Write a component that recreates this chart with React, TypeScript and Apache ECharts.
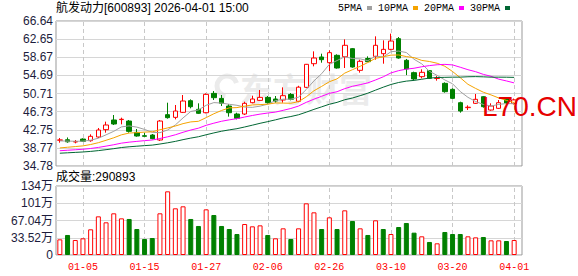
import React, { useEffect, useRef } from 'react';
import * as echarts from 'echarts';

const stockName = '航发动力';
const stockCode = '600893';
const stamp = '2026-04-01 15:00';

const dates = [
  '12-29', '12-30', '12-31', '01-05', '01-06', '01-07', '01-08', '01-09', '01-12', '01-13',
  '01-14', '01-15', '01-16', '01-19', '01-20', '01-21', '01-22', '01-23', '01-26', '01-27',
  '01-28', '01-29', '01-30', '02-02', '02-03', '02-04', '02-05', '02-06', '02-09', '02-10',
  '02-11', '02-12', '02-13', '02-24', '02-25', '02-26', '02-27', '03-02', '03-03', '03-04',
  '03-05', '03-06', '03-09', '03-10', '03-11', '03-12', '03-13', '03-16', '03-17', '03-18',
  '03-19', '03-20', '03-23', '03-24', '03-25', '03-26', '03-27', '03-30', '03-31', '04-01',
];

const openPrice = [
  40.45, 40.55, 40.05, 40.7, 40.34, 41.15, 42.76, 44.89, 44.98, 44.66,
  42.17, 41.44, 41.59, 40.49, 46.06, 45.47, 46.57, 49.13, 47.23, 46.49,
  50.74, 49.64, 47.96, 46.2, 46.2, 48.69, 49.2, 49.86, 49.5, 49.28,
  50.5, 49.0, 52.06, 57.26, 58.73, 57.48, 59.1, 58.8, 60.56, 55.8,
  58.4, 58.87, 59.46, 60.41, 62.76, 58.0, 55.29, 54.41, 55.73, 54.0,
  52.94, 51.62, 48.69, 47.6, 48.55, 50.01, 47.08, 47.45, 49.6, 48.5,
];
const closePrice = [
  40.5, 40.1, 40.15, 40.2, 41.3, 42.69, 43.79, 44.01, 45.05, 42.39,
  41.37, 41.3, 40.78, 44.66, 45.4, 46.86, 49.06, 47.81, 46.35, 50.52,
  49.79, 48.55, 46.49, 45.25, 48.55, 49.5, 49.86, 48.69, 49.06, 50.23,
  49.45, 52.1, 57.12, 58.51, 58.14, 59.68, 56.31, 61.3, 56.53, 57.78,
  57.7, 61.3, 60.41, 62.24, 58.51, 56.1, 53.9, 55.36, 54.04, 54.06,
  51.11, 49.64, 46.86, 47.7, 49.43, 47.81, 47.96, 48.69, 48.6, 49.3,
];
const lowPrice = [
  39.9, 39.9, 39.76, 40.05, 40.12, 40.93, 42.1, 43.79, 43.93, 42.1,
  41.22, 41.22, 40.64, 40.27, 45.18, 45.03, 46.42, 47.45, 46.2, 46.35,
  49.28, 47.96, 45.62, 45.03, 45.98, 48.55, 49.06, 48.47, 48.69, 48.69,
  49.2, 48.8, 51.9, 56.68, 57.48, 55.65, 56.17, 56.31, 56.38, 55.29,
  57.63, 58.14, 57.26, 60.19, 58.36, 54.75, 53.68, 54.04, 53.9, 53.53,
  50.89, 49.5, 46.5, 47.08, 48.4, 47.6, 46.93, 47.3, 48.4, 48.3,
];
const highPrice = [
  40.93, 41.05, 40.49, 40.86, 41.74, 43.13, 44.52, 45.98, 45.4, 44.89,
  42.91, 42.1, 41.81, 44.89, 48.69, 48.18, 50.38, 49.42, 48.55, 50.74,
  51.25, 50.38, 48.4, 46.49, 48.91, 50.23, 51.48, 50.16, 50.16, 52.06,
  50.8, 52.4, 57.2, 59.97, 59.46, 60.19, 59.32, 62.61, 60.71, 58.14,
  58.87, 63.27, 62.39, 63.86, 63.12, 58.3, 55.51, 56.02, 55.87, 54.55,
  53.16, 51.84, 48.91, 48.11, 50.6, 50.16, 48.55, 49.28, 49.7, 49.6,
];
const prevClose = 40.2;

const volumes = [
  304000, 389000, 291000, 324000, 499000, 751000, 635000, 810000, 712000, 700000,
  505000, 311000, 330000, 810000, 1237000, 907000, 946000, 700000, 564000, 887000,
  777000, 564000, 505000, 408000, 602000, 557000, 576000, 389000, 324000, 518000,
  311000, 518000, 1004000, 829000, 505000, 732000, 505000, 868000, 661000, 518000,
  389000, 674000, 505000, 408000, 544000, 622000, 434000, 363000, 253000, 227000,
  447000, 408000, 408000, 363000, 343000, 350000, 285000, 285000, 272000, 290893,
];

const ma5 = [
  40.3, 40.25, 40.22, 40.23, 40.45, 40.89, 41.63, 42.4, 43.37, 43.59,
  43.32, 42.82, 42.18, 42.1, 42.7, 43.8, 45.35, 46.76, 47.1, 48.12,
  48.71, 48.6, 48.34, 48.12, 47.73, 47.67, 47.93, 48.37, 49.13, 49.47,
  49.46, 49.91, 51.59, 53.48, 55.06, 57.11, 57.95, 58.79, 58.39, 58.32,
  57.92, 58.92, 58.74, 59.89, 60.03, 59.71, 58.23, 57.22, 55.58, 54.69,
  53.69, 52.84, 51.14, 49.87, 48.95, 48.29, 47.95, 48.32, 48.5, 48.47,
];
const ma10 = [
  38.75, 38.9, 39.05, 39.2, 39.5, 39.9, 40.43, 40.98, 41.63, 42.02,
  42.11, 42.23, 42.29, 42.74, 43.15, 43.56, 44.09, 44.47, 44.6, 45.41,
  46.26, 46.98, 47.55, 47.61, 47.93, 48.19, 48.27, 48.36, 48.63, 48.6,
  48.57, 48.92, 49.98, 51.31, 52.27, 53.29, 53.93, 55.19, 55.94, 56.69,
  57.52, 58.44, 58.77, 59.14, 59.18, 58.82, 58.58, 57.98, 57.74, 57.36,
  56.7, 55.54, 54.18, 52.73, 51.82, 50.99, 50.4, 49.73, 49.19, 48.71,
];
const ma20 = [
  38.14, 38.24, 38.35, 38.46, 38.63, 38.86, 39.15, 39.45, 39.8, 40.02,
  40.19, 40.35, 40.49, 40.82, 41.19, 41.64, 42.19, 42.68, 43.09, 43.72,
  44.19, 44.61, 44.92, 45.18, 45.54, 45.88, 46.18, 46.42, 46.62, 47.01,
  47.42, 47.95, 48.77, 49.46, 50.1, 50.74, 51.1, 51.78, 52.29, 52.65,
  53.05, 53.68, 54.38, 55.23, 55.73, 56.06, 56.26, 56.59, 56.84, 57.03,
  57.11, 56.99, 56.48, 55.94, 55.5, 54.91, 54.49, 53.86, 53.47, 53.04,
];
const ma30 = [
  37.59, 37.68, 37.77, 37.86, 37.99, 38.16, 38.37, 38.59, 38.84, 39.0,
  39.13, 39.26, 39.37, 39.61, 39.88, 40.19, 40.57, 40.91, 41.21, 41.64,
  42.05, 42.42, 42.72, 42.98, 43.35, 43.75, 44.16, 44.53, 44.92, 45.34,
  45.65, 46.04, 46.61, 47.22, 47.78, 48.35, 48.76, 49.34, 49.72, 50.23,
  50.78, 51.45, 52.1, 52.69, 53.13, 53.43, 53.59, 53.84, 54.1, 54.22,
  54.26, 54.3, 54.31, 54.39, 54.42, 54.37, 54.3, 54.3, 54.29, 54.25,
];

const priceTicks = ['34.78', '38.77', '42.75', '46.73', '50.71', '54.69', '58.67', '62.65', '66.64'];
const volumeTicks = ['0', '33.52万', '67.04万', '101万', '134万'];
const volumeAxisMax = 1340800;
const labelDates = ['01-05', '01-15', '01-27', '02-06', '02-26', '03-10', '03-20', '04-01'];

const UP = '#ff0000';
const DOWN = '#008000';
const LABEL = '#1c1c3c';

export default function App() {
  const ref = useRef<HTMLDivElement>(null);

  useEffect(() => {
    if (!ref.current) return;
    const chart = echarts.init(ref.current, undefined, { renderer: 'svg' });

    const pMin = parseFloat(priceTicks[0]);
    const pMax = parseFloat(priceTicks[priceTicks.length - 1]);
    const pInt = Math.round(((pMax - pMin) / (priceTicks.length - 1)) * 1e4) / 1e4;
    const vInt = volumeAxisMax / (volumeTicks.length - 1);

    const vLines = {
      silent: true,
      z: 1,
      symbol: ['none', 'none'],
      label: { show: false },
      emphasis: { disabled: true },
      lineStyle: { color: '#c8c8c8', type: [4, 3], width: 1 },
      data: labelDates.map((d) => ({ xAxis: d })),
    };

    const maSeries = [
      { name: '5PMA', data: ma5, color: '#a0a0a0' },
      { name: '10PMA', data: ma10, color: '#f5a300' },
      { name: '20PMA', data: ma20, color: '#ff00ff' },
      { name: '30PMA', data: ma30, color: '#006633' },
    ].map((m) => ({
      type: 'line',
      name: m.name,
      xAxisIndex: 1,
      yAxisIndex: 1,
      data: m.data,
      showSymbol: false,
      symbol: 'none',
      lineStyle: { color: m.color, width: 1 },
      itemStyle: { color: m.color },
      z: 3,
      silent: true,
    }));

    const option: any = {
      animation: false,
      backgroundColor: '#fff',
      title: [
        {
          text: `${stockName}[${stockCode}] ${stamp}`,
          left: 56,
          top: 2,
          padding: 0,
          textStyle: { fontSize: 12, fontWeight: 'normal', color: '#000', fontFamily: '"Liberation Sans", "Noto Sans CJK SC"' },
        },
        {
          text: `成交量:${volumes[volumes.length - 1]}`,
          left: 56,
          top: 171,
          padding: 0,
          textStyle: { fontSize: 12, fontWeight: 'normal', color: '#000', fontFamily: '"Liberation Sans", "Noto Sans CJK SC"' },
        },
      ],
      legend: {
        left: 338,
        top: 3,
        padding: 0,
        itemGap: 6,
        itemWidth: 5,
        itemHeight: 4,
        align: 'right',
        icon: 'rect',
        selectedMode: false,
        textStyle: { fontFamily: '"Liberation Mono", monospace', fontSize: 10, color: '#000' },
        data: ['5PMA', '10PMA', '20PMA', '30PMA'],
      },
      graphic: [
        {
          type: 'arc',
          z: 0,
          silent: true,
          shape: { cx: 227, cy: 86, r: 10, startAngle: Math.PI * 0.55, endAngle: Math.PI * 1.9, clockwise: true },
          style: { stroke: '#ebebeb', lineWidth: 5, fill: 'none' },
        },
        {
          type: 'text',
          left: 240,
          top: 71,
          z: 0,
          silent: true,
          style: { text: '东方财富', font: 'bold 33px "Noto Sans CJK SC"', fill: '#ebebeb' },
        },
        {
          type: 'text',
          left: 482,
          top: 92,
          z: 100,
          silent: true,
          style: { text: 'L70.CN', font: '28px "Liberation Sans"', fill: '#e60000' },
        },
      ],
      grid: [
        { left: 56, top: 21, width: 466, height: 145, show: true, borderColor: '#999', borderWidth: 1, backgroundColor: 'transparent' },
        { left: 56, top: 21, width: 462, height: 145 },
        { left: 56, top: 186, width: 466, height: 69, show: true, borderColor: '#999', borderWidth: 1, backgroundColor: 'transparent' },
        { left: 56, top: 186, width: 462, height: 69 },
      ],
      xAxis: [
        { gridIndex: 0, type: 'value', min: 0, max: 1, show: false },
        {
          gridIndex: 1,
          type: 'category',
          data: dates,
          boundaryGap: true,
          axisLine: { show: false },
          axisTick: { show: false },
          axisLabel: { show: false },
          splitLine: { show: false },
        },
        { gridIndex: 2, type: 'value', min: 0, max: 1, show: false },
        {
          gridIndex: 3,
          type: 'category',
          data: dates,
          boundaryGap: true,
          axisLine: { show: false },
          axisTick: { show: false },
          axisLabel: {
            show: true,
            interval: (_i: number, v: string) => labelDates.includes(v),
            color: '#ff0000',
            fontFamily: '"Liberation Mono", monospace',
            fontSize: 10,
            margin: 7,
          },
          splitLine: { show: false },
        },
      ],
      yAxis: [
        {
          gridIndex: 0,
          type: 'value',
          min: pMin,
          max: pMax,
          interval: pInt,
          axisLine: { show: false },
          axisTick: { show: false },
          axisLabel: {
            formatter: (v: number) => priceTicks[Math.round((v - pMin) / pInt)] ?? '',
            color: LABEL,
            fontSize: 12,
            fontFamily: '"Liberation Sans", Arial',
            margin: 3,
          },
          splitLine: { show: true, lineStyle: { color: '#d6d6d6', width: 1 } },
        },
        { gridIndex: 1, type: 'value', min: pMin, max: pMax, show: false },
        {
          gridIndex: 2,
          type: 'value',
          min: 0,
          max: volumeAxisMax,
          interval: vInt,
          axisLine: { show: false },
          axisTick: { show: false },
          axisLabel: {
            formatter: (v: number) => volumeTicks[Math.round(v / vInt)] ?? '',
            color: LABEL,
            fontSize: 12,
            fontFamily: '"Liberation Sans", "Noto Sans CJK SC"',
            margin: 3,
          },
          splitLine: { show: true, lineStyle: { color: '#d6d6d6', width: 1 } },
        },
        { gridIndex: 3, type: 'value', min: 0, max: volumeAxisMax, show: false },
      ],
      series: [
        {
          type: 'candlestick',
          name: 'K',
          xAxisIndex: 1,
          yAxisIndex: 1,
          barWidth: 5,
          silent: true,
          data: dates.map((_, i) => [openPrice[i], closePrice[i], lowPrice[i], highPrice[i]]),
          itemStyle: { color: '#ffffff', color0: DOWN, borderColor: UP, borderColor0: DOWN, borderWidth: 1 },
          markLine: vLines,
        },
        ...maSeries,
        {
          type: 'bar',
          name: 'VOL',
          xAxisIndex: 3,
          yAxisIndex: 3,
          barWidth: 5,
          silent: true,
          data: volumes.map((v, i) => {
            const pc = i === 0 ? prevClose : closePrice[i - 1];
            const up = closePrice[i] >= pc;
            return {
              value: v,
              itemStyle: up
                ? { color: '#ffffff', borderColor: UP, borderWidth: 1 }
                : { color: DOWN, borderColor: DOWN, borderWidth: 1 },
            };
          }),
          markLine: vLines,
        },
      ],
    };

    chart.setOption(option);
    return () => chart.dispose();
  }, []);

  return <div ref={ref} style={{ position: 'fixed', left: 0, top: 0, width: 578, height: 276 }} />;
}
